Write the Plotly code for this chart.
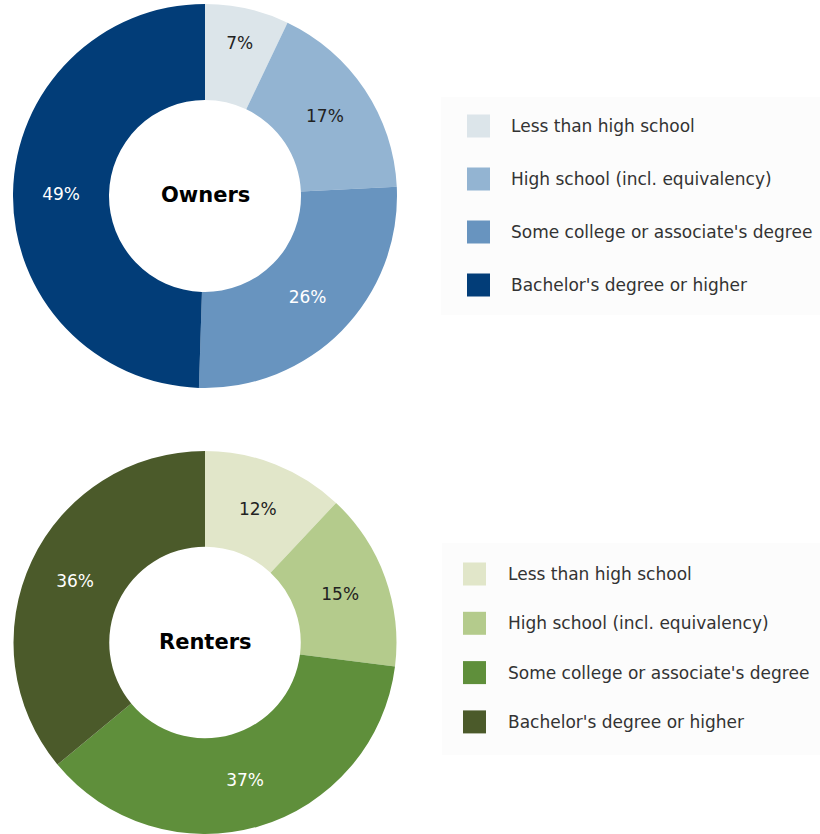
import plotly.graph_objects as go

categories = ["Less than high school", "High school (incl. equivalency)",
              "Some college or associate's degree", "Bachelor's degree or higher"]
owners_values = [7, 17, 26, 49]
renters_values = [12, 15, 37, 36]
owners_colors = ["#dce5ea", "#93b4d2", "#6894bf", "#023d78"]
renters_colors = ["#e1e6c9", "#b4cb8c", "#5f8f3b", "#4b5a2a"]
owners_text_colors = ["#222222", "#222222", "#ffffff", "#ffffff"]
renters_text_colors = ["#222222", "#222222", "#ffffff", "#ffffff"]

W, H = 820, 834
FONT = "DejaVu Sans, Verdana, sans-serif"

fig = go.Figure()

def add_donut(values, colors, tcolors, dom_x, dom_y, name):
    fig.add_trace(go.Pie(
        values=values, labels=categories, name=name,
        marker=dict(colors=colors, line=dict(width=0)),
        hole=0.5, sort=False, direction="clockwise", rotation=0,
        texttemplate="%{value}%", textposition="inside",
        insidetextorientation="horizontal",
        textfont=dict(family=FONT, size=17, color=tcolors),
        domain=dict(x=dom_x, y=dom_y), showlegend=False,
        hoverinfo="label+value",
    ))

add_donut(owners_values, owners_colors, owners_text_colors,
          [13 / W, 397 / W], [1 - 388 / H, 1 - 4 / H], "Owners")
add_donut(renters_values, renters_colors, renters_text_colors,
          [13 / W, 397 / W], [0, 1 - 451 / H], "Renters")

annotations = [
    dict(text="<b>Owners</b>", x=205 / W, y=1 - 195 / H, xref="paper", yref="paper",
         xanchor="center", yanchor="middle",
         showarrow=False, font=dict(family=FONT, size=21, color="#000000")),
    dict(text="<b>Renters</b>", x=205 / W, y=1 - 642 / H, xref="paper", yref="paper",
         xanchor="center", yanchor="middle",
         showarrow=False, font=dict(family=FONT, size=21, color="#000000")),
]
shapes = []

def add_legend(colors, box, sw_x, txt_x, y0, dy):
    bx0, by0, bx1, by1 = box
    shapes.append(dict(type="rect", xref="paper", yref="paper",
                       x0=bx0 / W, x1=bx1 / W, y0=1 - by1 / H, y1=1 - by0 / H,
                       fillcolor="#fcfcfc", line=dict(width=0), layer="below"))
    for i, (cat, col) in enumerate(zip(categories, colors)):
        cy = y0 + i * dy
        shapes.append(dict(type="rect", xref="paper", yref="paper",
                           x0=sw_x / W, x1=(sw_x + 23) / W,
                           y0=1 - (cy + 11.5) / H, y1=1 - (cy - 11.5) / H,
                           fillcolor=col, line=dict(width=0)))
        annotations.append(dict(text=cat, x=txt_x / W, y=1 - cy / H,
                                xref="paper", yref="paper", xanchor="left",
                                yanchor="middle", showarrow=False,
                                font=dict(family=FONT, size=17, color="#333333")))

add_legend(owners_colors, (441, 97, 820, 315), 467, 509, 126, 53)
add_legend(renters_colors, (442, 543, 820, 755), 463, 506, 574, 49.3)

fig.update_layout(
    width=W, height=H, margin=dict(l=0, r=0, t=0, b=0),
    paper_bgcolor="#ffffff", plot_bgcolor="#ffffff",
    annotations=annotations, shapes=shapes,
)

fig.write_html("out.html", config={"displayModeBar": False},
               post_script="document.body.style.margin='0';document.body.style.overflow='hidden';")
